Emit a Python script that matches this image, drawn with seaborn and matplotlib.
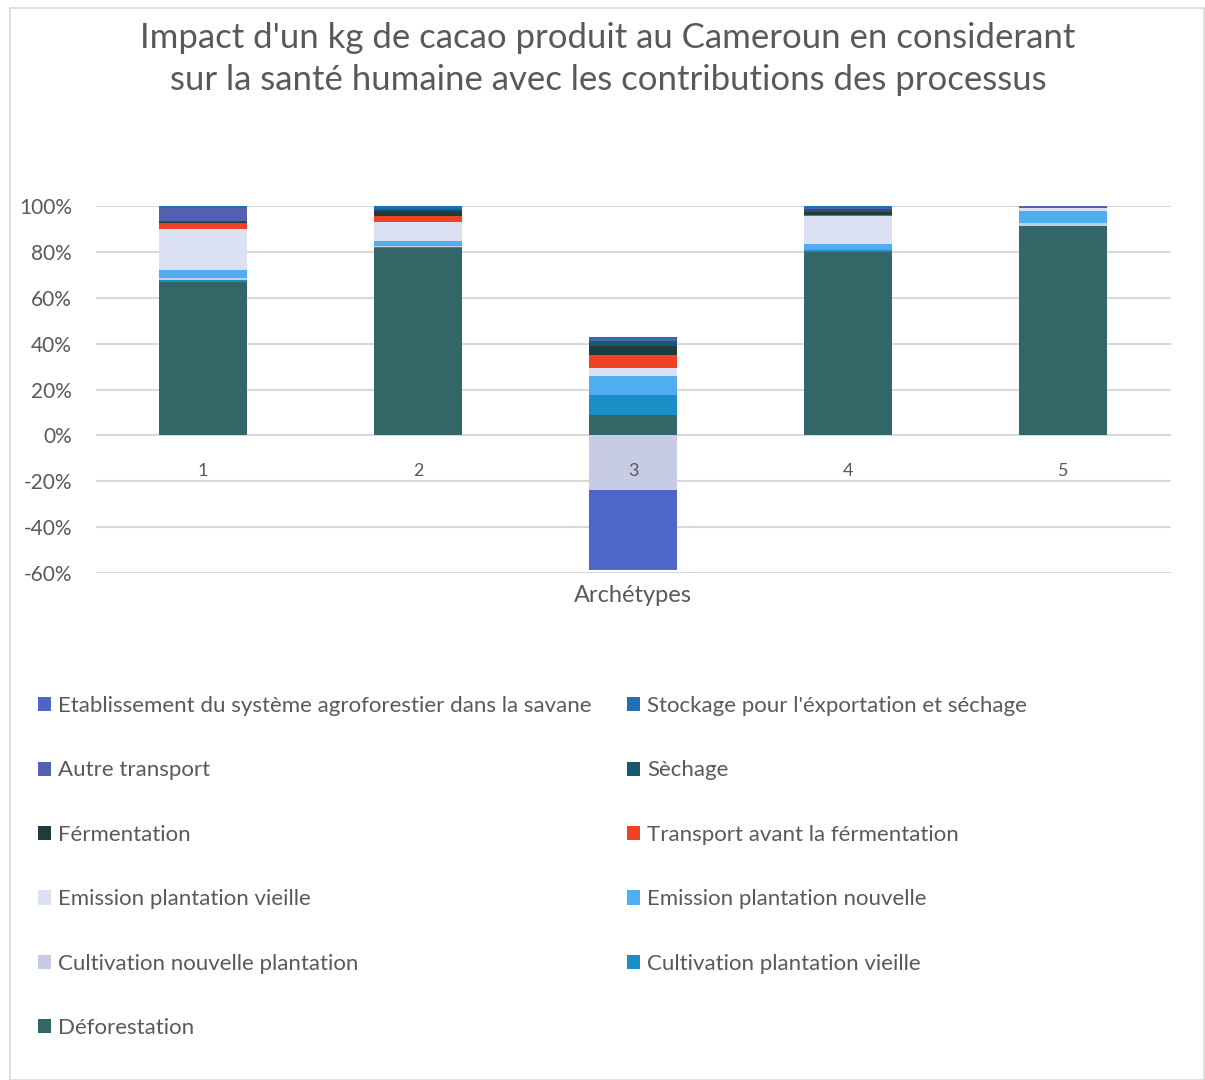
import numpy as np
import pandas as pd
import matplotlib
matplotlib.use("Agg")
import matplotlib.pyplot as plt
import seaborn as sns
from matplotlib.patches import Patch, Rectangle
from matplotlib.ticker import FuncFormatter

# ---------------- data (percent) ----------------
categories = ["1", "2", "3", "4", "5"]

deforestation          = [67.0, 81.5,   9.1, 79.9, 91.3]
cultivation_vieille    = [ 0.7,  0.7,   8.4,  1.0,  0.0]
cultivation_nouvelle   = [ 1.0,  0.2, -24.0,  0.0,  1.2]
emission_nouvelle      = [ 3.6,  2.3,   8.4,  2.6,  5.5]
emission_vieille       = [17.5,  8.3,   3.6, 12.2,  1.2]
transport_fermentation = [ 2.9,  2.6,   5.7,  0.4,  0.0]
fermentation           = [ 0.3,  2.2,   3.8,  1.4,  0.0]
sechage                = [ 0.6,  0.7,   2.0,  1.4,  0.0]
autre_transport        = [ 5.7,  0.2,   0.9,  0.1,  0.6]
stockage               = [ 0.7,  1.3,   1.0,  1.0,  0.2]
etablissement          = [ 0.0,  0.0, -34.5,  0.0,  0.0]

# stack order bottom -> top
series_names = [
    "Déforestation",
    "Cultivation plantation vieille",
    "Cultivation nouvelle plantation",
    "Emission plantation nouvelle",
    "Emission plantation vieille",
    "Transport avant la férmentation",
    "Férmentation",
    "Sèchage",
    "Autre transport",
    "Stockage pour l'éxportation et séchage",
    "Etablissement du système agroforestier dans la savane",
]
series_values = [
    deforestation, cultivation_vieille, cultivation_nouvelle, emission_nouvelle,
    emission_vieille, transport_fermentation, fermentation, sechage,
    autre_transport, stockage, etablissement,
]
series_colors = [
    "#336666", "#1a8ec8", "#c7cbe3", "#4fadf0", "#dbe0f3", "#f04124",
    "#1f3b3b", "#1a5770", "#5460b0", "#1f6fb4", "#4f66c9",
]

# ---------------- figure ----------------
sns.set_theme(style="white")
plt.rcParams["font.family"] = ["Lato", "DejaVu Sans"]
grey = "#595959"

W, H = 1205, 1080
fig = plt.figure(figsize=(W / 100, H / 100), dpi=100)
fig.patches.append(Rectangle((10 / W, 0), 1 - 11 / W, 1 - 8 / H, transform=fig.transFigure,
                             fill=False, edgecolor="#d9d9d9", linewidth=1.2))

ax = fig.add_axes([95.5 / W, 1 - 573 / H, (1170.5 - 95.5) / W, (573 - 206) / H])

vals = np.array(series_values, dtype=float)
pos = np.clip(vals, 0, None)
neg = np.clip(vals, None, 0)
cum_pos = np.cumsum(pos, axis=0)
cum_neg = np.cumsum(neg, axis=0)

bar_w = 0.405
for i in range(len(series_names) - 1, -1, -1):
    h = np.where(vals[i] > 0, cum_pos[i], 0.0)
    df = pd.DataFrame({"cat": categories, "val": h})
    sns.barplot(data=df, x="cat", y="val", color=series_colors[i], saturation=1,
                width=bar_w, linewidth=0, ax=ax, errorbar=None)
for i in range(len(series_names) - 1, -1, -1):
    if np.any(vals[i] < 0):
        h = np.where(vals[i] < 0, cum_neg[i], 0.0)
        df = pd.DataFrame({"cat": categories, "val": h})
        sns.barplot(data=df, x="cat", y="val", color=series_colors[i], saturation=1,
                    width=bar_w, linewidth=0, ax=ax, errorbar=None)

ax.set_xlim(-0.5, len(categories) - 0.5)
ax.set_ylim(-60, 100)
ax.set_yticks(np.arange(-60, 101, 20))
ax.yaxis.set_major_formatter(FuncFormatter(lambda v, p: f"{v:.0f}%"))
ax.tick_params(axis="y", length=0, labelsize=15, labelcolor=grey, pad=17)
ax.set_xticks([])
ax.set_xlabel("")
ax.set_ylabel("")
ax.grid(axis="y", color="#d9d9d9", linewidth=1.5)
ax.set_axisbelow(True)
for s in ax.spines.values():
    s.set_visible(False)

for i, c in enumerate(categories):
    ax.text(i, -15.5, c, ha="center", va="center", fontsize=13, color=grey)

fig.text(633 / W, 1 - 595 / H, "Archétypes", ha="center", va="center", fontsize=17, color=grey)

fig.text(608 / W, 1 - 59 / H,
         "Impact d'un kg de cacao produit au Cameroun en considerant\n"
         "sur la santé humaine avec les contributions des processus",
         ha="center", va="center", fontsize=25, color=grey, linespacing=1.36)

# legend (two columns, row-major as in reference)
legend_order = list(range(len(series_names) - 1, -1, -1))
left_col = legend_order[0::2]
right_col = legend_order[1::2]


def make_legend(idx, x):
    handles = [Patch(facecolor=series_colors[k], edgecolor="none") for k in idx]
    labels = [series_names[k] for k in idx]
    leg = fig.legend(handles, labels, loc="upper left", bbox_to_anchor=(x, 1 - 696 / H),
                     frameon=False, fontsize=16, labelcolor=grey, handlelength=0.6,
                     handleheight=0.6, handletextpad=0.3, labelspacing=2.0,
                     borderpad=0, borderaxespad=0)
    return leg


make_legend(left_col, 38 / W)
make_legend(right_col, 627 / W)

fig.savefig("out.png", dpi=100)
